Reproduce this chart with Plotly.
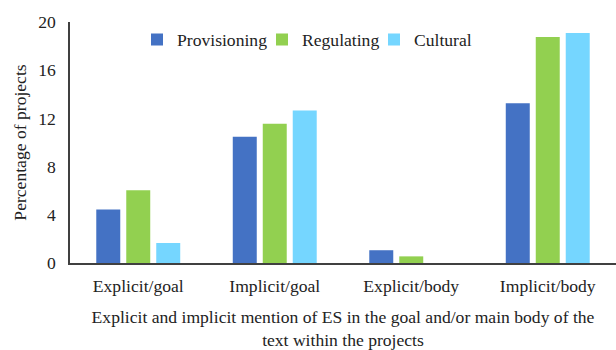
import plotly.graph_objects as go

categories = ["Explicit/goal", "Implicit/goal", "Explicit/body", "Implicit/body"]
provisioning = [4.43, 10.48, 1.06, 13.25]
regulating = [6.03, 11.56, 0.55, 18.76]
cultural = [1.66, 12.65, 0.0, 19.08]
y_ticks = [0, 4, 8, 12, 16, 20]

series = [
    ("Provisioning", provisioning, "#4472C4", "legend"),
    ("Regulating", regulating, "#92D050", "legend2"),
    ("Cultural", cultural, "#75D6FF", "legend3"),
]

fig = go.Figure()
for name, vals, color, lg in series:
    fig.add_trace(go.Bar(x=categories, y=vals, name=name, legend=lg,
                         marker=dict(color=color, line=dict(width=0))))

ff = "Liberation Serif"
txt = "#222222"
W, H = 616, 350
ML, MR, MT, MB = 70, 0, 22, 82
PW, PH = W - ML - MR, H - MT - MB
fs = 17.6


def legend_at(px_text_left, px_mid_y=40):
    return dict(orientation="h", xref="paper", yref="paper",
                x=(px_text_left - 40 - ML) / PW, xanchor="left",
                y=(H - MB - px_mid_y) / PH, yanchor="middle",
                font=dict(family=ff, size=fs, color=txt), itemwidth=30,
                bgcolor="rgba(0,0,0,0)", borderwidth=0)


fig.update_layout(
    width=W, height=H,
    margin=dict(l=ML, r=MR, t=MT, b=MB),
    paper_bgcolor="white", plot_bgcolor="white",
    barmode="group", bargap=0.341, bargroupgap=0.2,
    font=dict(family=ff, size=fs, color=txt),
    showlegend=True,
    legend=legend_at(177),
    legend2=legend_at(302),
    legend3=legend_at(414),
    xaxis=dict(showline=True, linecolor="#404040", linewidth=1.5, ticks="",
               showgrid=False, ticklabelstandoff=6,
               title=dict(text="Explicit and implicit mention of ES in the goal and/or main body of the<br>text within the projects",
                          font=dict(family=ff, size=fs, color=txt), standoff=19),
               tickfont=dict(family=ff, size=fs, color=txt)),
    yaxis=dict(range=[0, 20], tickvals=y_ticks, showline=True, linecolor="#404040",
               linewidth=1.5, ticks="", showgrid=False, zeroline=False,
               ticklabelstandoff=9,
               title=dict(text="Percentage of projects", font=dict(family=ff, size=fs, color=txt), standoff=7),
               tickfont=dict(family=ff, size=fs, color=txt)),
)

fig.write_html("out.html")
